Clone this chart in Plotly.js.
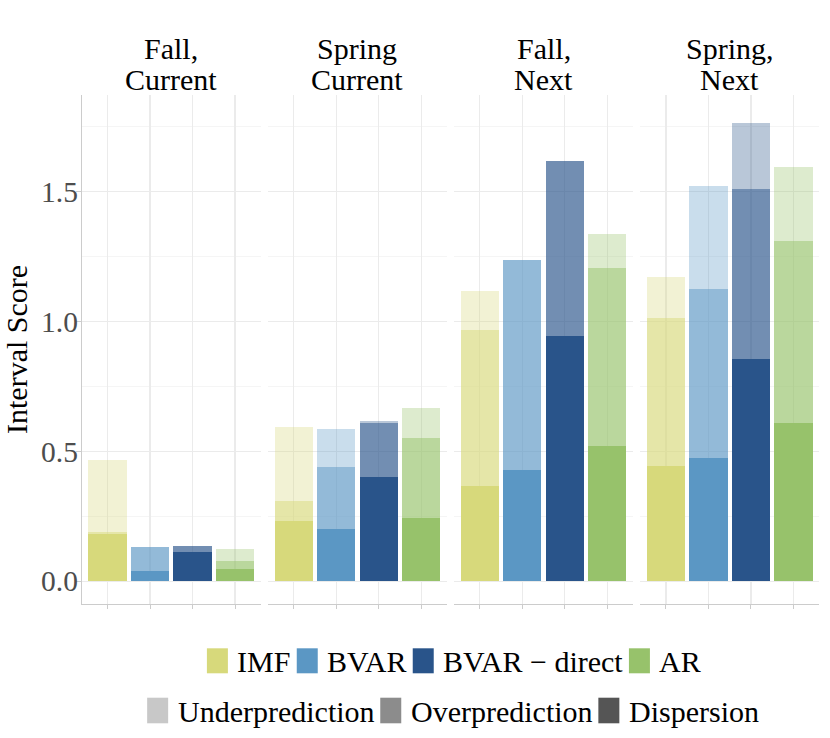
<!DOCTYPE html>
<html>
<head>
<meta charset="utf-8">
<script src="https://cdn.plot.ly/plotly-3.0.1.min.js"></script>
<style>
  html, body { margin: 0; padding: 0; background: #fff; }
  #chart { width: 830px; height: 738px; }
</style>
</head>
<body>
<div id="chart"></div>
<script>
"use strict";

const MODELS = ["IMF", "BVAR", "BVAR \u2212 direct", "AR"];
const FACET_LINES = [["Fall,", "Current"], ["Spring", "Current"], ["Fall,", "Next"], ["Spring,", "Next"]];
const COMPONENTS = ["Underprediction", "Overprediction", "Dispersion"];

// Segment heights, one row per facet, models in MODELS order.
const dispersion = [
  [0.180, 0.041, 0.112, 0.048],
  [0.231, 0.200, 0.400, 0.245],
  [0.366, 0.427, 0.946, 0.520],
  [0.445, 0.475, 0.856, 0.608],
];
const overprediction = [
  [0.011, 0.089, 0.022, 0.028],
  [0.076, 0.241, 0.210, 0.307],
  [0.600, 0.810, 0.671, 0.687],
  [0.570, 0.652, 0.654, 0.701],
];
const underprediction = [
  [0.276, 0.003, 0.000, 0.049],
  [0.288, 0.147, 0.007, 0.117],
  [0.150, 0.000, 0.000, 0.130],
  [0.158, 0.396, 0.254, 0.286],
];

const MODEL_COLORS = ["#d7d97b", "#5b97c4", "#29548a", "#97c26b"];
const COMPONENT_ALPHA = { Dispersion: 1, Overprediction: 0.66, Underprediction: 0.33 };
const COMPONENT_KEYS = ["#c8c8c8", "#8c8c8c", "#555555"];

const FONT = "Liberation Serif, Times New Roman, Times, serif";
const W = 830, H = 738;
const M = { l: 82, r: 11, t: 95, b: 134 };
const PW = W - M.l - M.r;
const PH = H - M.t - M.b;

function withAlpha(hex, alpha) {
  const h = hex.replace("#", "");
  const r = parseInt(h.slice(0, 2), 16);
  const g = parseInt(h.slice(2, 4), 16);
  const b = parseInt(h.slice(4, 6), 16);
  return `rgba(${r}, ${g}, ${b}, ${alpha})`;
}

// pixel -> paper coordinates
const px = (x) => (x - M.l) / PW;
const py = (y) => (H - M.b - y) / PH;

const ctx = document.createElement("canvas").getContext("2d");
ctx.font = `30px ${FONT}`;
const textWidth = (s) => ctx.measureText(s).width;

const gap = 7.6 / PW;
const panelW = (1 - 3 * gap) / 4;

const traces = [];
const layout = {
  width: W,
  height: H,
  margin: M,
  paper_bgcolor: "#fff",
  plot_bgcolor: "#fff",
  font: { family: FONT, size: 30, color: "#000" },
  barmode: "stack",
  bargap: 0.1,
  showlegend: false,
  shapes: [],
  annotations: [],
  yaxis: {
    domain: [0, 1],
    anchor: "x",
    range: [-0.088, 1.873],
    tickvals: [0, 0.5, 1, 1.5],
    tickformat: ".1f",
    gridcolor: "#ebebeb",
    gridwidth: 1.1,
    minor: { tickmode: "linear", tick0: 0.25, dtick: 0.5, showgrid: true, gridcolor: "#f5f5f5", gridwidth: 1 },
    showline: true,
    linecolor: "#cccccc",
    linewidth: 1.2,
    ticks: "outside",
    ticklen: 5,
    tickcolor: "#cccccc",
    ticklabelstandoff: -8,
    tickfont: { size: 29.5, color: "#4d4d4d", family: FONT },
    zeroline: false,
    fixedrange: true,
  },
};

FACET_LINES.forEach((lines, f) => {
  const xa = f === 0 ? "x" : "x" + (f + 1);
  const key = f === 0 ? "xaxis" : "xaxis" + (f + 1);
  const d0 = f * (panelW + gap);
  layout[key] = {
    domain: [d0, d0 + panelW],
    anchor: "y",
    type: "category",
    categoryorder: "array",
    categoryarray: MODELS,
    range: [-0.6, 3.6],
    showgrid: true,
    gridcolor: "#ebebeb",
    gridwidth: 1.1,
    showline: true,
    linecolor: "#cccccc",
    linewidth: 1.2,
    ticks: "outside",
    ticklen: 4,
    tickcolor: "#cccccc",
    showticklabels: false,
    zeroline: false,
    fixedrange: true,
  };

  const parts = [
    ["Dispersion", dispersion[f]],
    ["Overprediction", overprediction[f]],
    ["Underprediction", underprediction[f]],
  ];
  parts.forEach(([comp, vals]) => {
    traces.push({
      type: "bar",
      name: comp,
      x: MODELS,
      y: vals,
      xaxis: xa,
      yaxis: "y",
      marker: {
        color: MODEL_COLORS.map((c) => withAlpha(c, COMPONENT_ALPHA[comp])),
        line: { width: 0 },
      },
      hoverinfo: "skip",
    });
  });

  // strip label, one annotation per line to keep tight spacing
  const cx = d0 + panelW / 2;
  [48, 80].forEach((yPix, i) => {
    layout.annotations.push({
      xref: "paper", yref: "paper",
      x: cx, y: py(yPix),
      xanchor: "center", yanchor: "middle",
      text: lines[i],
      showarrow: false,
      font: { size: 30, color: "#000", family: FONT },
    });
  });
});

// y axis title
layout.annotations.push({
  xref: "paper", yref: "paper",
  x: px(16), y: py(350),
  xanchor: "center", yanchor: "middle",
  text: "Interval Score",
  textangle: -90,
  showarrow: false,
  font: { size: 30, color: "#000", family: FONT },
});

// legends: fill colour row and component (alpha) row
function legendRow(labels, colors, top, keyH, center) {
  const keyW = 21, keyGap = 7.5, itemGap = 8;
  const widths = labels.map(textWidth);
  const total = widths.reduce((s, w) => s + keyW + keyGap + w, 0) + itemGap * (labels.length - 1);
  let x = center - total / 2;
  labels.forEach((lab, i) => {
    layout.shapes.push({
      type: "rect", xref: "paper", yref: "paper",
      x0: px(x), x1: px(x + keyW), y0: py(top + keyH), y1: py(top),
      fillcolor: colors[i], line: { width: 0 },
    });
    layout.annotations.push({
      xref: "paper", yref: "paper",
      x: px(x + keyW + keyGap), y: py(top + keyH / 2 + 1),
      xanchor: "left", yanchor: "middle",
      text: lab, showarrow: false,
      font: { size: 30, color: "#000", family: FONT },
    });
    x += keyW + keyGap + widths[i] + itemGap;
  });
}
legendRow(MODELS, MODEL_COLORS, 648.3, 25, 453);
legendRow(COMPONENTS, COMPONENT_KEYS, 697.7, 25.6, 452);

Plotly.newPlot("chart", traces, layout, { staticPlot: true, displayModeBar: false });
</script>
</body>
</html>
